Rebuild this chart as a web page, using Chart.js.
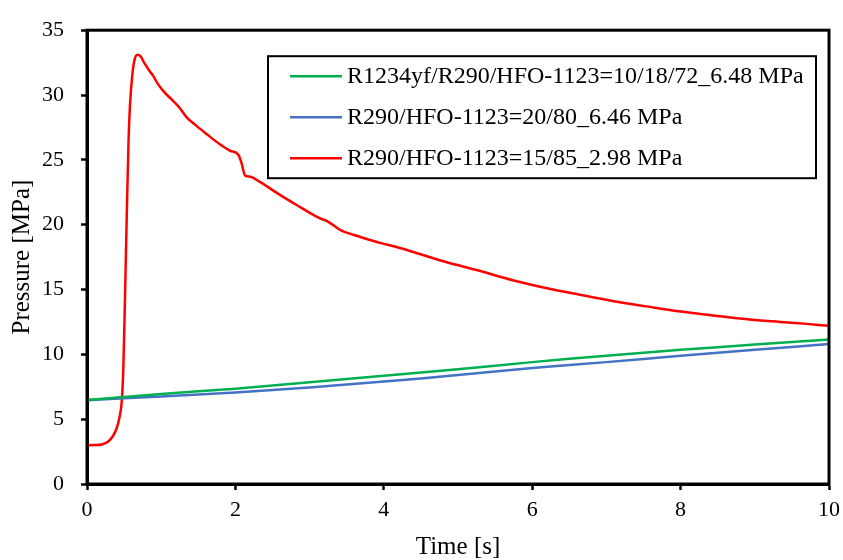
<!DOCTYPE html>
<html>
<head>
<meta charset="utf-8">
<script src="https://cdn.jsdelivr.net/npm/chart.js@4/dist/chart.umd.min.js"></script>
<style>
  html, body { margin: 0; padding: 0; background: #fff; }
  #wrap { width: 843px; height: 560px; position: relative; }
</style>
</head>
<body>
<div id="wrap"><canvas id="pressureChart"></canvas></div>
<script>
// series labels
const seriesLabels = [
    'R1234yf/R290/HFO-1123=10/18/72_6.48 MPa',
    'R290/HFO-1123=20/80_6.46 MPa',
    'R290/HFO-1123=15/85_2.98 MPa'
];
const seriesColors = ['#00b050', '#4472c4', '#ff0000'];

// green + blue curves (time in s, pressure in MPa)
const timeSlow = [0, 1, 2, 3, 4, 5, 6, 7, 8, 9, 10];
const pressGreen = [6.48, 6.95, 7.35, 7.85, 8.35, 8.85, 9.4, 9.9, 10.35, 10.75, 11.15];
const pressBlue = [6.46, 6.75, 7.05, 7.45, 7.9, 8.4, 8.95, 9.4, 9.9, 10.35, 10.8];

// red curve (explosion)
const timeRed = [0, 0.1, 0.2, 0.29, 0.35, 0.4, 0.44, 0.47, 0.49, 0.51, 0.535, 0.56, 0.58, 0.61, 0.64, 0.68, 0.72,
    0.78, 0.85, 0.89, 0.95, 1.03, 1.15, 1.25, 1.34, 1.48, 1.61, 1.79, 1.93, 2.04, 2.08, 2.13, 2.2, 2.33, 2.6,
    2.83, 3.1, 3.18, 3.23, 3.41, 3.6, 3.77, 3.95, 4.22, 4.85, 5.25, 5.75, 6.2, 6.64, 7.1, 7.54, 8.0, 8.44,
    8.9, 9.34, 9.7, 10];
const pressRed = [2.98, 3.0, 3.05, 3.3, 3.7, 4.3, 5.2, 6.5, 9.0, 13.8, 20.5, 26.5, 29.3, 31.5, 32.7, 33.1, 33.0,
    32.4, 31.8, 31.5, 30.9, 30.3, 29.6, 29.0, 28.3, 27.6, 27.0, 26.2, 25.7, 25.4, 24.8, 23.8, 23.7, 23.3, 22.3,
    21.5, 20.6, 20.4, 20.3, 19.6, 19.2, 18.9, 18.6, 18.2, 17.1, 16.5, 15.7, 15.1, 14.6, 14.1, 13.7, 13.3, 13.0,
    12.7, 12.5, 12.35, 12.2];

const FONT = '"Liberation Serif", "Times New Roman", serif';

function toPoints(xs, ys) {
    return xs.map((x, i) => ({ x: x, y: ys[i] }));
}

// frame around plot + boxed legend
const frameAndLegend = {
    id: 'frameAndLegend',
    afterDraw(chart) {
        const ctx = chart.ctx;
        const a = chart.chartArea;
        ctx.save();
        ctx.strokeStyle = '#000';
        ctx.lineWidth = 3;
        ctx.strokeRect(a.left, a.top, a.right - a.left, a.bottom - a.top);

        const lx = a.right - 561, ly = a.top + 26;
        ctx.lineWidth = 2;
        ctx.fillStyle = '#fff';
        ctx.fillRect(lx, ly, 548, 122);
        ctx.strokeRect(lx, ly, 548, 122);
        ctx.font = '24px ' + FONT;
        ctx.textBaseline = 'middle';
        ctx.textAlign = 'left';
        chart.data.datasets.forEach((ds, i) => {
            const y = ly + 20 + i * 41;
            ctx.strokeStyle = ds.borderColor;
            ctx.lineWidth = 2.5;
            ctx.beginPath();
            ctx.moveTo(lx + 22, y);
            ctx.lineTo(lx + 74, y);
            ctx.stroke();
            ctx.fillStyle = '#000';
            ctx.fillText(ds.label, lx + 79, y + 1);
        });
        ctx.restore();
    }
};

try {
    new Chart(document.getElementById('pressureChart'), {
        type: 'line',
        data: {
            datasets: [
                { label: seriesLabels[0], data: toPoints(timeSlow, pressGreen), borderColor: seriesColors[0], borderWidth: 2.5, pointRadius: 0, tension: 0.3 },
                { label: seriesLabels[1], data: toPoints(timeSlow, pressBlue), borderColor: seriesColors[1], borderWidth: 2.5, pointRadius: 0, tension: 0.3 },
                { label: seriesLabels[2], data: toPoints(timeRed, pressRed), borderColor: seriesColors[2], borderWidth: 2.5, pointRadius: 0, cubicInterpolationMode: 'monotone' },
            ]
        },
        options: {
            responsive: true,
            maintainAspectRatio: false,
            animation: false,
            layout: { padding: { top: 18, right: 14, left: 0, bottom: 0 } },
            plugins: { legend: { display: false }, tooltip: { enabled: false } },
            scales: {
                x: {
                    type: 'linear', min: 0, max: 10,
                    ticks: { stepSize: 2, color: '#000', font: { family: FONT, size: 22 }, padding: 7, maxRotation: 0 },
                    grid: { drawOnChartArea: false, tickLength: 6, tickColor: '#000', tickWidth: 2.5 },
                    border: { color: '#000', width: 3 },
                    title: { display: true, text: 'Time [s]', color: '#000', font: { family: FONT, size: 25, lineHeight: 1 }, padding: { top: 0, bottom: 0 } },
                    afterFit(scale) { scale.height = 76; scale.paddingLeft = 0; scale.paddingRight = 0; }
                },
                y: {
                    min: 0, max: 35,
                    ticks: { stepSize: 5, color: '#000', font: { family: FONT, size: 22 }, padding: 17 },
                    grid: { drawOnChartArea: false, tickLength: 6, tickColor: '#000', tickWidth: 2.5 },
                    border: { color: '#000', width: 3 },
                    title: { display: true, text: 'Pressure [MPa]', color: '#000', font: { family: FONT, size: 25, lineHeight: 1 }, padding: { top: 10, bottom: 0 } },
                    afterFit(scale) { scale.width = 87; }
                }
            }
        },
        plugins: [frameAndLegend]
    });
} catch (e) {
    console.error('Failed to render pressure chart', e);
}
</script>
</body>
</html>
